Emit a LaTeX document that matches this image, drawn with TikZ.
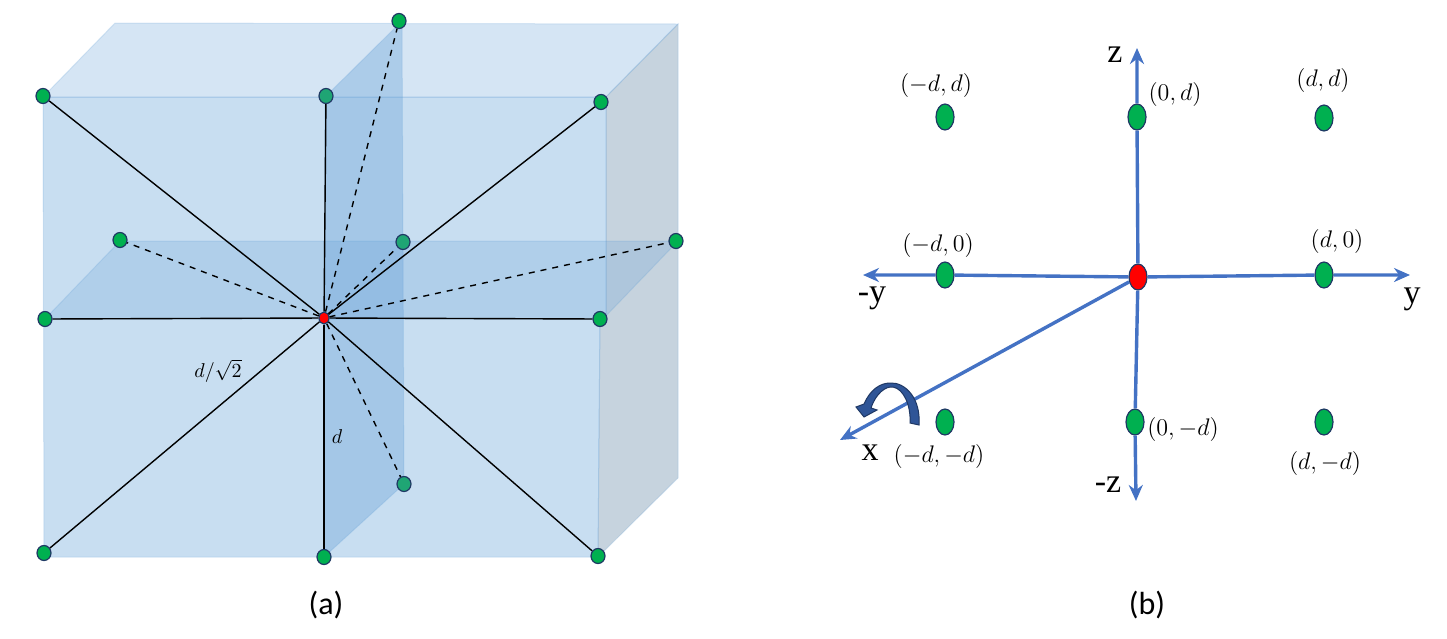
\documentclass[tikz,border=0pt]{standalone}
\usepackage{amsmath}
\usepackage{fontspec}
\usetikzlibrary{positioning, shapes.geometric, arrows.meta}
\newfontfamily\capfont{Carlito}
\newfontfamily\axisfont{Liberation Serif}
\definecolor{facecol}{HTML}{5B9BD5}
\definecolor{sidecol}{HTML}{8FA9BF}
\definecolor{rimcol}{HTML}{1F3864}
\definecolor{greencol}{HTML}{00B050}
\definecolor{hidecol}{HTML}{1FA574}
\definecolor{axiscol}{HTML}{4472C4}
\definecolor{turncol}{HTML}{2F5597}

\begin{document}
\begin{tikzpicture}[x=0.5pt,y=-0.5pt,
    face/.style={fill=facecol,fill opacity=#1,draw=facecol,draw opacity=0.2,line width=0.5pt},
    side/.style={fill=sidecol,fill opacity=0.5,draw=facecol,draw opacity=0.2,line width=0.5pt},
    atom/.style={ellipse,draw=rimcol,line width=0.6pt,fill=greencol,inner sep=0pt,minimum width=7pt,minimum height=7.5pt},
    hidden/.style={atom,fill=hidecol},
    bigatom/.style={atom,minimum width=9pt,minimum height=13pt},
    solidbond/.style={black,line width=0.7pt},
    dashbond/.style={black,line width=0.7pt,dashed},
    axis/.style={axiscol,line width=1.7pt,-{Stealth[length=8pt,width=7pt]}},
    bondlabel/.style={inner sep=0pt,font=\normalsize},
    poslabel/.style={inner sep=0pt,font=\large},
    axislabel/.style={inner sep=0pt,font=\axisfont\fontsize{17}{17}\selectfont},
    caption/.style={inner sep=0pt,font=\capfont\fontsize{16}{16}\selectfont}]
    \useasboundingbox (0,0) rectangle (1447,638);

    % box faces
    \fill[white] (0,0) rectangle (1447,638);
    \draw[face=0.25] (43,97) -- (115,23) -- (678,24) -- (606,97) -- cycle;
    \draw[face=0.33] (43,97) -- (606,97) -- (606,319) -- (600,319) -- (598,557) -- (44,557) -- cycle;
    \draw[side] (606,97) -- (678,24) -- (678,478) -- (598,557) -- (600,319) -- (606,319) -- cycle;
    \draw[face=0.22] (45,319) -- (120,241) -- (678,241) -- (603,319) -- cycle;
    \draw[face=0.33] (325,97) -- (402,21) -- (404,484) -- (324,557) -- cycle;

    % panel a
    \node[atom,fill=red,minimum width=5pt,minimum height=6pt] (center) at (324,318) {};
    \node[atom] (topleft) at (43,96) {};
    \node[hidden] (topmid) at (326,96) {};
    \node[atom] (topright) at (601,102) {};
    \node[atom] (backtop) at (399,21) {};
    \node[atom] (backleft) at (120,240) {};
    \node[hidden] (backmid) at (403,242) {};
    \node[atom] (backright) at (676,241) {};
    \node[atom] (midleft) at (45,319) {};
    \node[atom] (midright) at (600,319) {};
    \node[atom] (lowleft) at (44,553) {};
    \node[atom] (lowmid) at (324,557) {};
    \node[atom] (lowright) at (598,556) {};
    \node[hidden] (backlow) at (404,484) {};

    \draw[solidbond] (center) -- (topleft);
    \draw[solidbond] (center) -- (topmid);
    \draw[solidbond] (center) -- (topright);
    \draw[solidbond] (center) -- (midleft);
    \draw[solidbond] (center) -- (midright);
    \draw[solidbond] (center) -- (lowleft);
    \draw[solidbond] (center) -- (lowmid);
    \draw[solidbond] (center) -- (lowright);
    \draw[dashbond] (center) -- (backtop);
    \draw[dashbond] (center) -- (backleft);
    \draw[dashbond] (center) -- (backmid);
    \draw[dashbond] (center) -- (backright);
    \draw[dashbond] (center) -- (backlow);

    \node[bondlabel] (diag_label) at (218,371) {$d/\sqrt{2}$};
    \node[bondlabel] (side_label) at (337,437) {$d$};
    \node[caption] (cap_a) at (326,605) {(a)};

    % panel b
    \node[bigatom,fill=red] (o) at (1138,277) {};
    \node[bigatom] (zp) at (1137,117) {};
    \node[bigatom] (zm) at (1135,422) {};
    \node[bigatom] (yp) at (1324,275) {};
    \node[bigatom] (ym) at (945,275) {};
    \node[bigatom] (pp) at (1324,118) {};
    \node[bigatom] (mp) at (945,117) {};
    \node[bigatom] (pm) at (1324,422) {};
    \node[bigatom] (mm) at (945,422) {};

    \coordinate (ztip) at (1137,48);
    \coordinate (zend) at (1136,501);
    \coordinate (ytip) at (1410,275);
    \coordinate (yend) at (863,275);
    \coordinate (xtip) at (840,440);

    \draw[axis] (o) -- (zp) -- (ztip);
    \draw[axis] (o) -- (zm) -- (zend);
    \draw[axis] (o) -- (yp) -- (ytip);
    \draw[axis] (o) -- (ym) -- (yend);
    \draw[axis] (o) -- (xtip);

    \node[axislabel] (z_label) at (1115,55) {z};
    \node[axislabel] (zm_label) at (1108,485) {-z};
    \node[axislabel] (y_label) at (1412,299) {y};
    \node[axislabel] (ym_label) at (872,298) {-y};
    \node[axislabel] (x_label) at (870,453) {x};

    \node[poslabel] (mp_label) at (936,85) {$(-d,d)$};
    \node[poslabel] (zp_label) at (1175,94) {$(0,d)$};
    \node[poslabel] (pp_label) at (1323,80) {$(d,d)$};
    \node[poslabel] (ym_pos) at (938,245) {$(-d,0)$};
    \node[poslabel] (yp_pos) at (1337,241) {$(d,0)$};
    \node[poslabel] (mm_label) at (939,456) {$(-d,-d)$};
    \node[poslabel] (zm_pos) at (1183,429) {$(0,-d)$};
    \node[poslabel] (pm_label) at (1325,463) {$(d,-d)$};
    \node[caption] (cap_b) at (1147,605) {(b)};

    % turn arrow round x
    \draw[fill=turncol,draw=rimcol,line width=0.5pt] (919,425) .. controls (921,398) and (905,382) .. (890,383)
        .. controls (880,383) and (870,390) .. (864,404) -- (856,407) -- (864,417) -- (877,410) -- (871,408)
        .. controls (876,393) and (886,386) .. (893,387) .. controls (904,389) and (911,406) .. (910,423) -- cycle;
\end{tikzpicture}
\end{document}
